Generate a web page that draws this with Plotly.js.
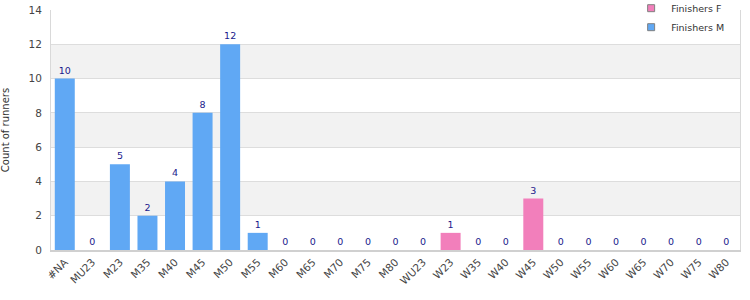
<!DOCTYPE html>
<html><head><meta charset="utf-8">
<script src="https://cdn.plot.ly/plotly-3.0.1.min.js"></script>
<style>html,body{margin:0;padding:0;background:#fff}#c{width:750px;height:300px}</style>
</head><body><div id="c"></div>
<script>
var categories = ["#NA","MU23","M23","M35","M40","M45","M50","M55","M60","M65","M70","M75","M80","WU23","W23","W35","W40","W45","W50","W55","W60","W65","W70","W75","W80"];
var maleCats = ["#NA","MU23","M23","M35","M40","M45","M50","M55","M60","M65","M70","M75","M80"];
var maleValues = [10,0,5,2,4,8,12,1,0,0,0,0,0];
var femaleCats = ["WU23","W23","W35","W40","W45","W50","W55","W60","W65","W70","W75","W80"];
var femaleValues = [0,1,0,0,3,0,0,0,0,0,0,0];
var seriesNames = ["Finishers F","Finishers M"];
var seriesColors = ["#f27fbb","#60a8f4"];
var yTicks = [0,2,4,6,8,10,12,14];
var bands = [[2,4],[6,8],[10,12]];

var shapes = bands.map(function(b){return {type:'rect',xref:'paper',yref:'y',x0:0,x1:1,y0:b[0],y1:b[1],fillcolor:'#f2f2f2',line:{width:0},layer:'below'};});

var labelFont = {family:'DejaVu Sans', size:9.5, color:'#1a1a8c'};
var traces = [
 {type:'bar', name:seriesNames[0], x:femaleCats, y:femaleValues, text:femaleValues.map(String), textposition:'outside', textfont:labelFont, marker:{color:seriesColors[0], line:{width:0}}, cliponaxis:false, hoverinfo:'none', showlegend:false},
 {type:'bar', name:seriesNames[1], x:maleCats, y:maleValues, text:maleValues.map(String), textposition:'outside', textfont:labelFont, marker:{color:seriesColors[1], line:{width:0}}, cliponaxis:false, hoverinfo:'none', showlegend:false}
];
seriesNames.forEach(function(n,i){
 traces.push({type:'scatter', mode:'markers', name:n, x:[null], y:[null], marker:{symbol:'square', size:7, color:seriesColors[i], line:{color:'#808080', width:1}}, hoverinfo:'none', showlegend:true});
});
var layout = {
 width:750, height:300,
 margin:{l:51, r:10, t:10, b:50, autoexpand:false},
 paper_bgcolor:'#fff', plot_bgcolor:'#fff',
 barmode:'overlay', bargap:0.275,
 font:{family:'DejaVu Sans', size:10, color:'#444'},
 showlegend:true,
 legend:{x:0.842, xanchor:'left', y:1.068, yanchor:'top', bgcolor:'#fff', borderwidth:0, font:{family:'DejaVu Sans', size:9.5, color:'#333'}, traceorder:'normal', itemwidth:30, tracegroupgap:0},
 xaxis:{type:'category', categoryorder:'array', categoryarray:categories, tickangle:-45, showline:true, linecolor:'#d0d0d0', linewidth:2, mirror:false, ticks:'', tickfont:{family:'DejaVu Sans', size:10.5, color:'#444'}, showgrid:false, fixedrange:true},
 yaxis:{range:[0,14], tickvals:yTicks, showgrid:true, gridcolor:'#dddddd', zeroline:false, showline:true, linecolor:'#d9d9d9', linewidth:1, mirror:true, ticks:'', ticklabelstandoff:6, tickfont:{family:'DejaVu Sans', size:10.5, color:'#444'}, title:{text:'Count of runners', font:{family:'DejaVu Sans', size:10, color:'#333'}, standoff:17}},
 shapes:shapes
};
Plotly.newPlot('c', traces, layout, {displayModeBar:false, staticPlot:true});
</script></body></html>
